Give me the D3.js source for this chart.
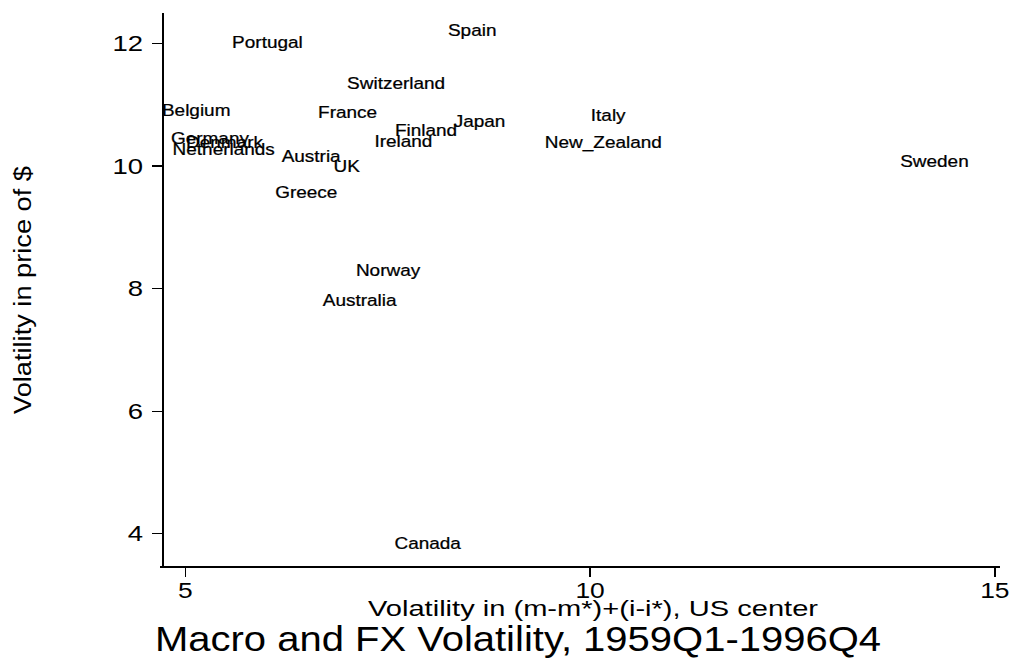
<!DOCTYPE html>
<html>
<head>
<meta charset="utf-8">
<script src="https://cdn.jsdelivr.net/npm/d3@7"></script>
<style>
  html, body { margin: 0; padding: 0; background: #fff; }
  svg { display: block; font-family: "Liberation Sans", Arial, Helvetica, sans-serif; }
</style>
</head>
<body>
<svg id="chart" width="1015" height="664"></svg>
<script>
// ---- data ----
const countries = ["Portugal","Spain","Switzerland","Belgium","France","Finland","Japan","Italy",
  "New_Zealand","Ireland","Sweden","Germany","Denmark","Netherlands","Austria","UK","Greece",
  "Norway","Australia","Canada"];
const macroVol = [6.02, 8.55, 7.61, 5.14, 7.01, 7.98, 8.64, 10.23,
  10.17, 7.70, 14.26, 5.31, 5.49, 5.48, 6.56, 7.00, 6.50,
  7.51, 7.16, 8.00];
const fxVol = [12.02, 12.21, 11.35, 10.91, 10.88, 10.58, 10.72, 10.82,
  10.38, 10.40, 10.07, 10.45, 10.39, 10.27, 10.16, 10.00, 9.57,
  8.30, 7.80, 3.84];
const xTicks = [5, 10, 15];
const yTicks = [4, 6, 8, 10, 12];
const xTitle = "Volatility in (m-m*)+(i-i*), US center";
const yTitle = "Volatility in price of $";
const chartTitle = "Macro and FX Volatility, 1959Q1-1996Q4";

// ---- layout ----
const svg = d3.select("#chart");
const mLeft = 163, mRight = 1000, mTop = 13, mBottom = 567;
const x = d3.scaleLinear().domain([4.73, 15.07]).range([mLeft, mRight]);
const y = d3.scaleLinear().domain([3.45, 12.49]).range([mBottom, mTop]);

const ink = "#000";

// y axis
const yAxis = d3.axisLeft(y).tickValues(yTicks).tickSize(11).tickPadding(9).tickSizeOuter(0);
const gy = svg.append("g").attr("transform", `translate(${mLeft},0)`).call(yAxis);
gy.select(".domain").attr("stroke", ink).attr("stroke-width", 1.6).attr("d", `M0,${mTop}V${mBottom}`);
gy.selectAll(".tick line").attr("stroke", ink).attr("stroke-width", 1.4);
gy.selectAll(".tick text")
  .attr("fill", ink).attr("font-size", 22)
  .attr("dy", "0.35em")
  .each(function() {
    const t = d3.select(this);
    const tx = +t.attr("x");
    t.attr("x", 0).attr("transform", `translate(${tx},0) scale(1.25,1)`);
  });

// x axis
const xAxis = d3.axisBottom(x).tickValues(xTicks).tickSize(10).tickPadding(5).tickSizeOuter(0);
const gx = svg.append("g").attr("transform", `translate(0,${mBottom})`).call(xAxis);
gx.select(".domain").attr("stroke", ink).attr("stroke-width", 1.6).attr("d", `M${mLeft - 3},0H${mRight}`);
gx.selectAll(".tick line").attr("stroke", ink).attr("stroke-width", 1.4);
gx.selectAll(".tick text")
  .attr("fill", ink).attr("font-size", 22)
  .each(function() {
    const t = d3.select(this);
    t.attr("transform", "scale(1.2,1)").attr("x", 0);
  });

svg.selectAll(".domain, .tick line").attr("shape-rendering", "crispEdges");

// point labels (text markers centred on the data points)
const pts = countries.map((c, i) => ({ name: c, mx: macroVol[i], fx: fxVol[i] }));
svg.append("g").selectAll("text").data(pts).join("text")
  .attr("transform", d => `translate(${x(d.mx)},${y(d.fx)}) scale(1.15,1)`)
  .attr("text-anchor", "middle")
  .attr("dy", "0.36em")
  .attr("font-size", 16.5)
  .attr("fill", ink)
  .attr("stroke", ink).attr("stroke-width", 0.25)
  .text(d => d.name);

// axis titles
svg.append("text")
  .attr("x", 593).attr("y", 616)
  .attr("text-anchor", "middle")
  .attr("font-size", 22)
  .attr("textLength", 450).attr("lengthAdjust", "spacingAndGlyphs")
  .attr("fill", ink)
  .text(xTitle);

svg.append("text")
  .attr("transform", "translate(31,290) rotate(-90)")
  .attr("text-anchor", "middle")
  .attr("font-size", 23)
  .attr("textLength", 248).attr("lengthAdjust", "spacingAndGlyphs")
  .attr("fill", ink)
  .text(yTitle);

// chart title (below the x axis title, as in the reference)
svg.append("text")
  .attr("x", 518).attr("y", 651)
  .attr("text-anchor", "middle")
  .attr("font-size", 35)
  .attr("textLength", 726).attr("lengthAdjust", "spacingAndGlyphs")
  .attr("fill", ink)
  .text(chartTitle);
</script>
</body>
</html>
